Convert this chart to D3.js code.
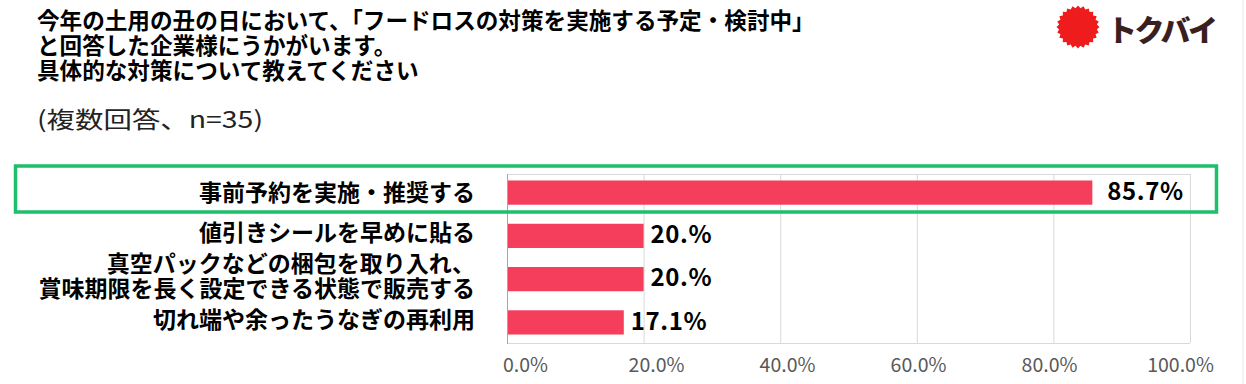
<!DOCTYPE html>
<html><head><meta charset="utf-8">
<script src="https://cdn.jsdelivr.net/npm/d3@7"></script>
<style>
html,body{margin:0;padding:0;background:#fff;}
svg{display:block;}
text{font-family:"Noto Sans CJK JP","Noto Sans",sans-serif;}
</style></head>
<body>
<svg id="c" width="1246" height="384"></svg>
<script>
const titleLines = ["今年の土用の丑の日において、「フードロスの対策を実施する予定・検討中」","と回答した企業様にうかがいます。","具体的な対策について教えてください"];
const subtitle = "(複数回答、n=35)";
const categories = ["事前予約を実施・推奨する","値引きシールを早めに貼る","真空パックなどの梱包を取り入れ、\n賞味期限を長く設定できる状態で販売する","切れ端や余ったうなぎの再利用"];
const values = [85.7, 20, 20, 17.1];
const valueLabels = ["85.7%","20.%","20.%","17.1%"];
const ticks = [0,20,40,60,80,100];
const tickLabels = ["0.0%","20.0%","40.0%","60.0%","80.0%","100.0%"];
const highlightIndex = 0;
const logoText = "トクバイ";

const svg = d3.select("#c");
const W = 1246, H = 384;
const plot = {left:507, right:1190, top:174, bottom:343};

const x = d3.scaleLinear().domain([0,100]).range([plot.left, plot.right]);
// tick labels are spread slightly inside the plot, as in the reference
const xl = d3.scaleLinear().domain([0,100]).range([plot.left+18, plot.right-10]);
const y = d3.scaleBand().domain(categories).range([plot.top, 341]).paddingInner(0.44).paddingOuter(0.15);

// right edge faint line
svg.append("line").attr("x1",1243).attr("x2",1243).attr("y1",0).attr("y2",H).attr("stroke","#e6e6e6").attr("stroke-width",1);

// title
svg.append("g").selectAll("text").data(titleLines).join("text")
  .attr("x",37).attr("y",(d,i)=>29+i*25)
  .attr("font-size",22.6).attr("font-weight","bold").attr("fill","#000")
  .text(d=>d);
svg.append("text").attr("x",37).attr("y",128).attr("font-size",23).attr("fill","#222")
  .attr("textLength",226).attr("lengthAdjust","spacingAndGlyphs").text(subtitle);

// logo
const burst = d3.range(0,48).map(i=>[ (i/48)*2*Math.PI, i%2===0?21.5:19 ]);
svg.append("path").attr("transform","translate(1078,27)")
  .attr("d", d3.lineRadial().curve(d3.curveLinearClosed)(burst))
  .attr("fill","#ee1c1c");
svg.append("text").attr("x",1107).attr("y",41).attr("font-size",30).attr("font-weight","900")
  .attr("fill","#3b1e1e").attr("letter-spacing",-2.5).text(logoText);

// grid
const g = svg.append("g");
g.append("g").selectAll("line").data(ticks.slice(1)).join("line")
  .attr("x1",d=>x(d)+0.5).attr("x2",d=>x(d)+0.5).attr("y1",plot.top).attr("y2",plot.bottom)
  .attr("stroke","#d9d9d9").attr("stroke-width",1);
g.append("line").attr("x1",plot.left).attr("x2",plot.right).attr("y1",plot.top+0.5).attr("y2",plot.top+0.5).attr("stroke","#d9d9d9");
g.append("line").attr("x1",plot.left).attr("x2",plot.right).attr("y1",plot.bottom+0.5).attr("y2",plot.bottom+0.5).attr("stroke","#d9d9d9");

// x axis labels
const xAxis = d3.axisBottom(xl).tickValues(ticks).tickSize(0).tickFormat((d,i)=>tickLabels[i]);
const ax = svg.append("g").attr("transform",`translate(0,${plot.bottom})`).call(xAxis);
ax.select(".domain").remove();
ax.selectAll("text").attr("font-size",19.5).attr("fill","#595959").attr("dy",0).attr("y",28.5)
  .attr("font-family","\"DejaVu Sans\",sans-serif");

// bars
svg.append("g").selectAll("rect").data(values).join("rect")
  .attr("x",x(0)).attr("y",(d,i)=>y(categories[i]))
  .attr("width",d=>x(d)-x(0)).attr("height",y.bandwidth())
  .attr("fill","#f43e5c");

// left axis line
svg.append("line").attr("x1",plot.left+0.5).attr("x2",plot.left+0.5).attr("y1",plot.top).attr("y2",plot.bottom+1).attr("stroke","#a6a6a6");

// value labels
svg.append("g").selectAll("text").data(values).join("text")
  .attr("x",(d,i)=>x(d)+(i===highlightIndex?15:7))
  .attr("y",(d,i)=>y(categories[i])+y.bandwidth()/2)
  .attr("dy","0.3em").attr("font-size",24).attr("font-weight","bold").attr("fill","#000")
  .attr("letter-spacing",0.6)
  .attr("font-family","\"DejaVu Sans\",sans-serif")
  .text((d,i)=>valueLabels[i]);

// category labels
const cl = svg.append("g").selectAll("text").data(categories).join("text")
  .attr("x",475).attr("y",(d,i)=>y(d)+y.bandwidth()/2 + (i===0?0:-3))
  .attr("text-anchor","end").attr("font-size",23).attr("font-weight","bold").attr("fill","#000");
cl.each(function(d){
  const lines = d.split("\n");
  const t = d3.select(this);
  lines.forEach((ln,j)=>{
    t.append("tspan").attr("x",475)
      .attr("dy", j===0 ? (0.36 - (lines.length-1)*0.54)+"em" : "1.08em")
      .text(ln);
  });
});

// highlight box
svg.append("rect").attr("x",15.5).attr("y",166).attr("width",1201).attr("height",46)
  .attr("fill","none").attr("stroke","#1dbf6a").attr("stroke-width",3.5);
</script>
</body></html>
